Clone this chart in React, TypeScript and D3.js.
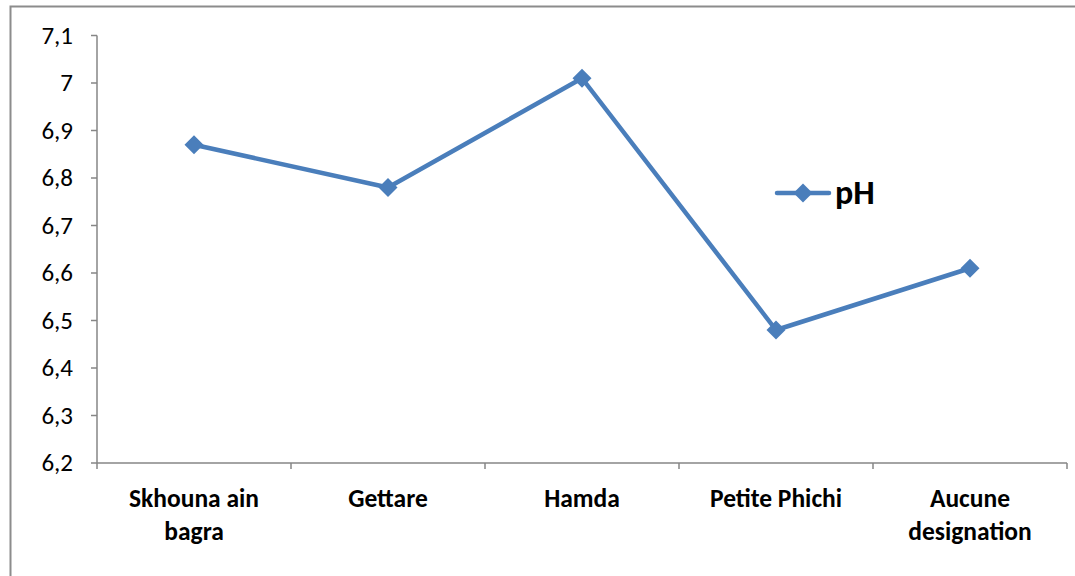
import React from "react";
import * as d3 from "d3";

const categories = ["Skhouna ain bagra", "Gettare", "Hamda", "Petite Phichi", "Aucune designation"];
const categoryLines = [["Skhouna ain", "bagra"], ["Gettare"], ["Hamda"], ["Petite Phichi"], ["Aucune", "designation"]];
const phValues = [6.87, 6.78, 7.01, 6.48, 6.61];
const yTicks = [6.2, 6.3, 6.4, 6.5, 6.6, 6.7, 6.8, 6.9, 7.0, 7.1];
const seriesName = "pH";

const W = 1075, H = 576;
const left = 97, right = 1067, top = 35.5, bottom = 463;
const color = "#4A7EBB";
const font = "Carlito, Lato, 'Liberation Sans', sans-serif";

export default function App() {
  const x = d3.scaleBand<string>().domain(categories).range([left, right]);
  const y = d3.scaleLinear().domain([6.2, 7.1]).range([bottom, top]);
  const line = d3.line<number>().x((_, i) => x(categories[i])! + x.bandwidth() / 2).y((d) => y(d));
  const fmt = (v: number) => (Math.round(v * 10) / 10).toString().replace(".", ",");
  const diamond = (cx: number, cy: number, r: number) =>
    `M${cx},${cy - r}L${cx + r},${cy}L${cx},${cy + r}L${cx - r},${cy}Z`;
  const boundaries = categories.map((c) => x(c)!).concat([right]);
  return (
    <svg width={W} height={H} style={{ position: "absolute", left: 0, top: 0, background: "#fff" }}>
      <rect x={10.5} y={6.5} width={W} height={H} fill="none" stroke="#8c8c8c" strokeWidth={2} />
      {/* y axis */}
      <line x1={left} x2={left} y1={top} y2={bottom} stroke="#868686" strokeWidth={1.5} />
      {yTicks.map((t) => (
        <g key={t}>
          <line x1={left - 6} x2={left} y1={y(t)} y2={y(t)} stroke="#868686" strokeWidth={1.5} />
          <text x={73} y={y(t) + 8} textAnchor="end" fontFamily={font} fontSize={25} fill="#000">
            {fmt(t)}
          </text>
        </g>
      ))}
      {/* x axis */}
      <line x1={left} x2={right} y1={bottom} y2={bottom} stroke="#868686" strokeWidth={1.5} />
      {boundaries.map((b, i) => (
        <line key={i} x1={b} x2={b} y1={bottom} y2={bottom + 6} stroke="#868686" strokeWidth={1.5} />
      ))}
      {categories.map((c, i) => (
        <text key={c} x={x(c)! + x.bandwidth() / 2} y={507} textAnchor="middle" fontFamily={font} fontSize={25.5} fontWeight="bold" fill="#000">
          {categoryLines[i].map((l, j) => (
            <tspan key={j} x={x(c)! + x.bandwidth() / 2} dy={j === 0 ? 0 : 33}>
              {l}
            </tspan>
          ))}
        </text>
      ))}
      <path d={line(phValues)!} fill="none" stroke={color} strokeWidth={4.5} strokeLinejoin="round" />
      {phValues.map((v, i) => (
        <path key={i} d={diamond(x(categories[i])! + x.bandwidth() / 2, y(v), 9.5)} fill={color} />
      ))}
      {/* legend */}
      <line x1={777} x2={829} y1={193} y2={193} stroke={color} strokeWidth={4.5} strokeLinecap="round" />
      <path d={diamond(803, 193, 9.5)} fill={color} />
      <text x={835} y={204} fontFamily={font} fontSize={34} fontWeight="bold" fill="#000">
        {seriesName}
      </text>
    </svg>
  );
}
